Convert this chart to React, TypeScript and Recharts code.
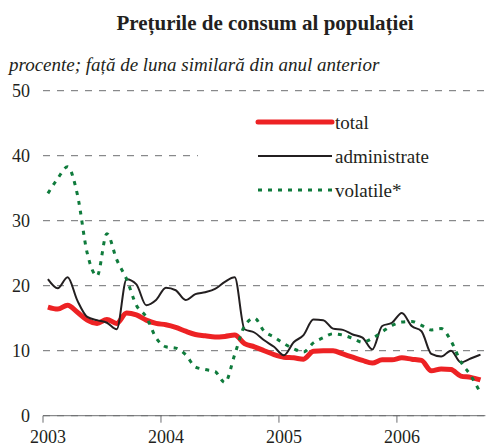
import { LineChart, Line, XAxis, YAxis, CartesianGrid, Legend } from "recharts"

// monthly values, Jan 2003 .. Sep 2006
const years = ["2003", "2004", "2005", "2006"]
const yTicks = [0, 10, 20, 30, 40, 50]

const total = [
  16.7, 16.4, 17.0, 15.9, 14.7, 14.2, 14.8, 14.2, 15.8, 15.5, 14.7, 14.2,
  14.0, 13.6, 13.0, 12.5, 12.3, 12.1, 12.2, 12.4, 11.1, 10.6, 10.0, 9.4,
  9.0, 8.9, 8.7, 9.9, 10.0, 10.0, 9.5, 9.0, 8.5, 8.1, 8.6, 8.6,
  8.9, 8.7, 8.5, 6.9, 7.2, 7.1, 6.1, 5.9, 5.5,
]

const administrate = [
  21.0, 19.6, 21.3, 17.7, 15.2, 14.7, 14.3, 13.3, 21.0, 20.2, 17.0, 17.8,
  19.7, 19.3, 17.8, 18.7, 19.0, 19.5, 20.6, 21.3, 13.3, 12.8, 11.6, 10.6,
  9.3, 11.3, 12.4, 14.8, 14.7, 13.4, 13.2, 12.5, 12.0, 10.2, 13.8, 14.3,
  15.8, 13.8, 13.0, 9.5, 9.1, 10.0, 8.2, 8.8, 9.4,
]

const volatile = [
  34.2, 36.5, 38.3, 34.0, 25.0, 21.5, 28.0, 24.0, 21.0, 17.0, 15.2, 12.0,
  10.6, 10.4, 9.4, 7.5, 7.1, 6.8, 5.1, 9.4, 13.8, 15.0, 13.0, 12.1,
  11.1, 10.3, 9.8, 11.2, 12.0, 12.6, 12.4, 11.9, 11.3, 11.9, 12.9, 13.9,
  14.4, 14.5, 13.9, 13.2, 13.4, 11.5, 8.3, 6.2, 3.5,
]

const data = total.map((v, i) => ({
  x: i + 0.5,
  total: v,
  administrate: administrate[i],
  volatile: volatile[i],
}))

const font = "Liberation Serif, Times New Roman, serif"
const ink = "#231f20"

const series = [
  { key: "total", label: "total", color: "#ed2224", width: 5, dash: undefined },
  { key: "administrate", label: "administrate", color: ink, width: 2, dash: undefined },
  { key: "volatile", label: "volatile*", color: "#0f7b3c", width: 3, dash: "4 6" },
]

const XTick = ({ x, y, payload }: any) => (
  <text x={x + 5} y={y + 9.5} textAnchor="middle" style={{ fontFamily: font, fontSize: 18 }} fill={ink}>
    {years[Math.round(payload.value / 12)]}
  </text>
)

const YTick = ({ x, y, payload }: any) => (
  <text x={x} y={y + 6} textAnchor="end" style={{ fontFamily: font, fontSize: 18 }} fill={ink}>
    {payload.value}
  </text>
)

const renderLegend = () => (
  <svg width={292} height={110} style={{ display: "block" }}>
    {series.map((s, i) => {
      const y = 22 + i * 34
      return (
        <g key={s.key}>
          <line x1={60} x2={134} y1={y} y2={y} stroke={s.color} strokeWidth={s.width} strokeDasharray={s.dash} strokeLinecap={s.key === "total" ? "round" : "butt"} />
          <text x={137} y={y + 7} style={{ fontFamily: font, fontSize: 19 }} fill={ink}>
            {s.label}
          </text>
        </g>
      )
    })}
  </svg>
)

export default function App() {
  return (
    <div style={{ position: "absolute", left: 0, top: 0, width: 498, height: 448, background: "#fff", fontFamily: font }}>
      <div style={{ position: "absolute", left: 0, width: 498, top: 13, textAlign: "center", paddingLeft: 32, boxSizing: "border-box", fontWeight: "bold", fontSize: 21, lineHeight: "21px", color: ink }}>
        Prețurile de consum al populației
      </div>
      <div style={{ position: "absolute", left: 9, top: 55, fontStyle: "italic", fontSize: 19, lineHeight: "19px", color: ink, whiteSpace: "nowrap" }}>
        procente; față de luna similară din anul anterior
      </div>
      <LineChart width={498} height={448} data={data} margin={{ top: 90.7, right: 12.6, bottom: 0, left: 0 }}>
        <CartesianGrid vertical={false} stroke="#6d6e71" strokeDasharray="7 7" />
        <XAxis
          dataKey="x"
          type="number"
          domain={[0, 45]}
          ticks={[0, 12, 24, 36]}
          height={32.3}
          tickSize={7}
          tickMargin={11}
          stroke="#6d6e71"
          tick={<XTick />}
        />
        <YAxis
          type="number"
          domain={[0, 50]}
          ticks={yTicks}
          width={43}
          axisLine={false}
          tickLine={false}
          tickSize={6}
          tickMargin={7}
          tick={<YTick />}
        />
        <Legend
          layout="vertical"
          align="center"
          verticalAlign="middle"
          content={renderLegend}
          wrapperStyle={{ left: 198, top: 100, width: 292, height: 110, background: "#fff" }}
        />
        {series.map((s) => (
          <Line
            key={s.key}
            dataKey={s.key}
            type="monotone"
            stroke={s.color}
            strokeWidth={s.width}
            strokeDasharray={s.dash}
            dot={false}
            activeDot={false}
            isAnimationActive={false}
          />
        ))}
      </LineChart>
    </div>
  )
}
